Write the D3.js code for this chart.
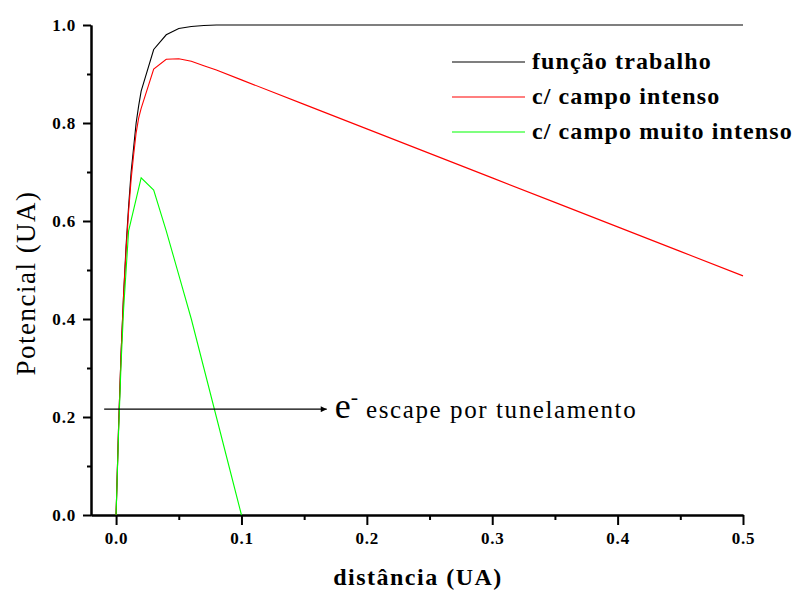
<!DOCTYPE html>
<html>
<head>
<meta charset="utf-8">
<script src="https://cdn.jsdelivr.net/npm/d3@7"></script>
<style>
  body { margin: 0; background: #fff; }
  svg { display: block; }
  .axis path, .axis line { stroke: #000; stroke-width: 2; }
  .axis text { font-family: "Liberation Serif", "Times New Roman", serif; font-weight: bold; font-size: 17px; letter-spacing: 0.8px; fill: #000; }
</style>
</head>
<body>
<div class="chart"></div>
<script>
//////////////////////////////////////////////////////////////
///////////////////////// Data ///////////////////////////////
//////////////////////////////////////////////////////////////

var seriesNames = ["função trabalho", "c/ campo intenso", "c/ campo muito intenso"];
var seriesColors = ["#000000", "#ff0000", "#00ff00"];

// função trabalho
var xWork = [0, 0.002, 0.004, 0.006, 0.008, 0.010, 0.012, 0.014, 0.016, 0.018, 0.020,
             0.03, 0.04, 0.05, 0.06, 0.07, 0.08, 0.1, 0.2, 0.3, 0.4, 0.5];
var yWork = [0, 0.18, 0.33, 0.45, 0.55, 0.63, 0.70, 0.75, 0.80, 0.835, 0.865,
             0.95, 0.98, 0.993, 0.997, 0.999, 1.0, 1.0, 1.0, 1.0, 1.0, 1.0];

// c/ campo intenso
var xStrong = [0, 0.002, 0.004, 0.006, 0.008, 0.010, 0.012, 0.014, 0.016, 0.018, 0.020,
               0.03, 0.04, 0.05, 0.06, 0.07, 0.08, 0.1, 0.15, 0.2, 0.25, 0.3, 0.35, 0.4, 0.45, 0.5];
var yStrong = [0, 0.18, 0.33, 0.45, 0.54, 0.62, 0.685, 0.735, 0.78, 0.81, 0.83,
               0.91, 0.93, 0.931, 0.926, 0.917, 0.908, 0.888, 0.838, 0.788, 0.738, 0.688, 0.638, 0.588, 0.538, 0.488];

// c/ campo muito intenso
var xVeryStrong = [0, 0.002, 0.004, 0.006, 0.008, 0.010,
                   0.02, 0.03, 0.04, 0.05, 0.06, 0.07, 0.08, 0.09, 0.1];
var yVeryStrong = [0, 0.17, 0.31, 0.42, 0.50, 0.58,
                   0.688, 0.663, 0.58, 0.49, 0.40, 0.30, 0.20, 0.10, 0.0];

var xMajorTicks = [0, 0.1, 0.2, 0.3, 0.4, 0.5];
var xMinorTicks = [0.05, 0.15, 0.25, 0.35, 0.45];
var yMajorTicks = [0, 0.2, 0.4, 0.6, 0.8, 1.0];
var yMinorTicks = [0.1, 0.3, 0.5, 0.7, 0.9];

// annotation arrow (data units)
var arrowX = [-0.0095, 0.168];
var arrowY = 0.216;

//////////////////////////////////////////////////////////////
///////////////////// General settings ///////////////////////
//////////////////////////////////////////////////////////////

var width = 804, height = 590;
var serif = '"Liberation Serif", "Times New Roman", serif';

var svg = d3.select(".chart").append("svg")
    .attr("width", width)
    .attr("height", height);

var xScale = d3.scaleLinear().domain([-0.02, 0.5]).range([91, 743]);
var yScale = d3.scaleLinear().domain([0, 1]).range([515, 25]);

//////////////////////////////////////////////////////////////
//////////////////////// Axes ////////////////////////////////
//////////////////////////////////////////////////////////////

var fmt = d3.format(".1f");

svg.append("g")
    .attr("class", "x axis")
    .attr("transform", "translate(0," + yScale(0) + ")")
    .call(d3.axisBottom(xScale).tickValues(xMinorTicks).tickSize(5).tickSizeOuter(0).tickFormat(""));

svg.append("g")
    .attr("class", "x axis")
    .attr("transform", "translate(0," + yScale(0) + ")")
    .call(d3.axisBottom(xScale).tickValues(xMajorTicks).tickSize(10).tickSizeOuter(0).tickPadding(7).tickFormat(fmt));

svg.append("g")
    .attr("class", "y axis")
    .attr("transform", "translate(" + xScale(-0.02) + ",0)")
    .call(d3.axisLeft(yScale).tickValues(yMinorTicks).tickSize(4).tickSizeOuter(0).tickFormat(""));

svg.append("g")
    .attr("class", "y axis")
    .attr("transform", "translate(" + xScale(-0.02) + ",0)")
    .call(d3.axisLeft(yScale).tickValues(yMajorTicks).tickSize(8).tickSizeOuter(0).tickPadding(7).tickFormat(fmt));

// Axis titles
svg.append("text")
    .attr("x", 418)
    .attr("y", 585)
    .attr("text-anchor", "middle")
    .style("font-family", serif)
    .style("font-weight", "bold")
    .style("font-size", "24px")
    .style("letter-spacing", "1.5px")
    .text("distância (UA)");

svg.append("text")
    .attr("transform", "translate(35,283) rotate(-90)")
    .attr("text-anchor", "middle")
    .style("font-family", serif)
    .style("font-size", "27px")
    .style("letter-spacing", "1.5px")
    .text("Potencial (UA)");

//////////////////////////////////////////////////////////////
//////////////////////// Lines ///////////////////////////////
//////////////////////////////////////////////////////////////

var line = d3.line()
    .x(function(d) { return xScale(d[0]); })
    .y(function(d) { return yScale(d[1]); });

var series = [
    d3.zip(xWork, yWork),
    d3.zip(xStrong, yStrong),
    d3.zip(xVeryStrong, yVeryStrong)
];

svg.selectAll(".curve")
    .data(series).enter()
    .append("path")
        .attr("class", "curve")
        .attr("d", line)
        .attr("fill", "none")
        .attr("stroke", function(d, i) { return seriesColors[i]; })
        .attr("stroke-width", 1.1);

//////////////////////////////////////////////////////////////
//////////////////////// Legend //////////////////////////////
//////////////////////////////////////////////////////////////

var legend = svg.append("g").attr("transform", "translate(452,62)");

var items = legend.selectAll(".item")
    .data(seriesNames).enter()
    .append("g")
        .attr("class", "item")
        .attr("transform", function(d, i) { return "translate(0," + i * 35 + ")"; });

items.append("line")
    .attr("x1", 0).attr("x2", 73)
    .attr("stroke", function(d, i) { return seriesColors[i]; })
    .attr("stroke-width", 1.1);

items.append("text")
    .attr("x", 80)
    .attr("y", 7)
    .style("font-family", serif)
    .style("font-weight", "bold")
    .style("font-size", "24px")
    .style("letter-spacing", "1.1px")
    .text(function(d) { return d; });

//////////////////////////////////////////////////////////////
////////////////////// Annotation ////////////////////////////
//////////////////////////////////////////////////////////////

svg.append("defs").append("marker")
    .attr("id", "arrow")
    .attr("viewBox", "0 0 10 10")
    .attr("refX", 10).attr("refY", 5)
    .attr("markerWidth", 10).attr("markerHeight", 6)
    .attr("markerUnits", "userSpaceOnUse")
    .attr("orient", "auto")
    .append("path")
        .attr("d", "M0,0L10,5L0,10Z")
        .attr("fill", "#000");

svg.append("line")
    .attr("x1", xScale(arrowX[0]))
    .attr("x2", xScale(arrowX[1]))
    .attr("y1", yScale(arrowY))
    .attr("y2", yScale(arrowY))
    .attr("stroke", "#000")
    .attr("stroke-width", 1.3)
    .attr("marker-end", "url(#arrow)");

var note = svg.append("text")
    .attr("x", xScale(arrowX[1]) + 8)
    .attr("y", yScale(arrowY) + 9)
    .style("font-family", serif)
    .style("fill", "#000");

note.append("tspan").style("font-size", "36px").text("e");
note.append("tspan").style("font-size", "22px").attr("dy", -14).text("-");
note.append("tspan").style("font-size", "25px").style("letter-spacing", "1.6px").attr("dy", 14).attr("dx", 8).text("escape por tunelamento");
</script>
</body>
</html>
